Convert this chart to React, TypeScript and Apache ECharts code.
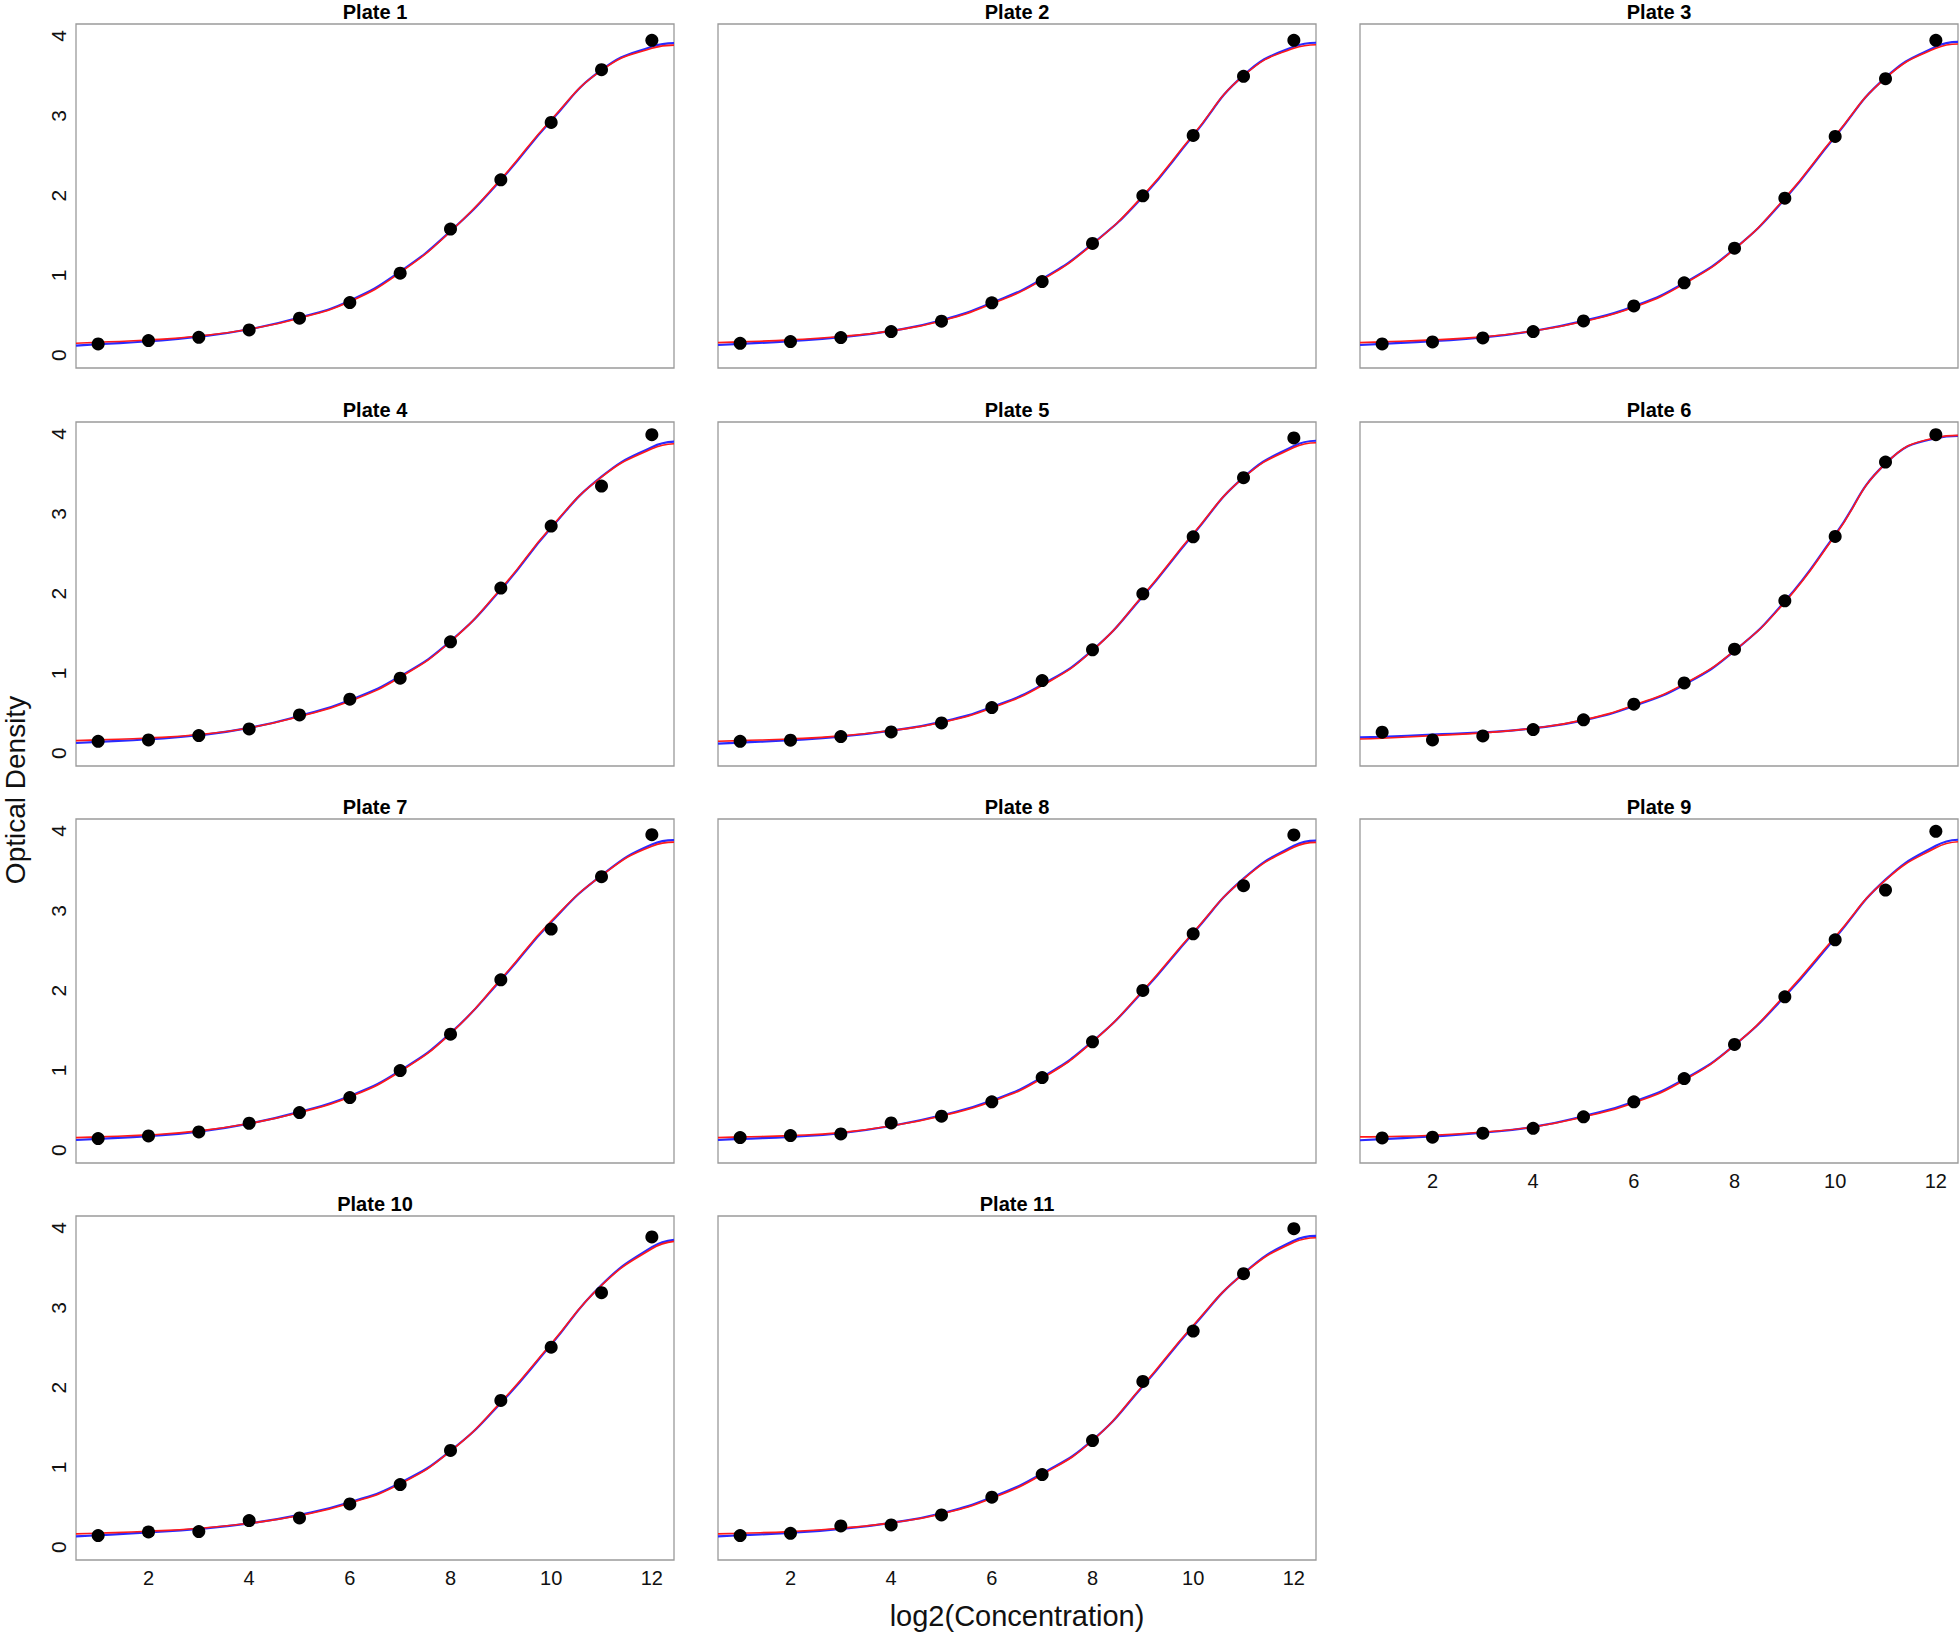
import React, { useEffect, useRef } from "react";
import * as echarts from "echarts";

// ---------- data ----------
const plateNames = [
  "Plate 1", "Plate 2", "Plate 3", "Plate 4", "Plate 5", "Plate 6",
  "Plate 7", "Plate 8", "Plate 9", "Plate 10", "Plate 11",
];
const concX = [1, 2, 3, 4, 5, 6, 7, 8, 9, 10, 11, 12];
const fitX = [0.56, 1, 2, 3, 4, 5, 6, 7, 8, 9, 10, 11, 12, 12.44];
const xTicks = [2, 4, 6, 8, 10, 12];
const yTicks = [0, 1, 2, 3, 4];
const xTitle = "log2(Concentration)";
const yTitle = "Optical Density";

// observed optical densities
const od1 = [0.142, 0.183, 0.225, 0.317, 0.464, 0.66, 1.028, 1.58, 2.198, 2.917, 3.577, 3.945];
const od2 = [0.15, 0.171, 0.221, 0.296, 0.426, 0.656, 0.923, 1.4, 1.997, 2.754, 3.494, 3.945];
const od3 = [0.142, 0.167, 0.217, 0.296, 0.43, 0.618, 0.907, 1.341, 1.968, 2.741, 3.465, 3.945];
const od4 = [0.15, 0.167, 0.221, 0.305, 0.48, 0.677, 0.94, 1.396, 2.069, 2.846, 3.347, 3.991];
const od5 = [0.15, 0.163, 0.209, 0.267, 0.38, 0.572, 0.911, 1.295, 1.997, 2.712, 3.452, 3.95];
const od6 = [0.263, 0.167, 0.217, 0.296, 0.418, 0.614, 0.881, 1.304, 1.91, 2.716, 3.648, 3.991];
const od7 = [0.146, 0.179, 0.229, 0.338, 0.472, 0.66, 0.998, 1.454, 2.135, 2.771, 3.427, 3.954];
const od8 = [0.158, 0.183, 0.204, 0.342, 0.426, 0.606, 0.911, 1.358, 2.002, 2.712, 3.314, 3.95];
const od9 = [0.154, 0.163, 0.213, 0.275, 0.418, 0.606, 0.898, 1.325, 1.922, 2.637, 3.26, 3.995];
const od10 = [0.146, 0.192, 0.196, 0.334, 0.367, 0.543, 0.785, 1.212, 1.839, 2.507, 3.189, 3.887];
const od11 = [0.146, 0.175, 0.267, 0.28, 0.405, 0.627, 0.911, 1.337, 2.077, 2.708, 3.427, 3.991];

// fitted curve (red), sampled at fitX
const red1 = [0.15, 0.163, 0.19, 0.24, 0.326, 0.464, 0.672, 1.036, 1.55, 2.206, 2.95, 3.569, 3.845, 3.885];
const red2 = [0.158, 0.167, 0.192, 0.234, 0.305, 0.43, 0.644, 0.944, 1.39, 1.997, 2.762, 3.502, 3.845, 3.89];
const red3 = [0.158, 0.167, 0.192, 0.23, 0.305, 0.422, 0.6, 0.894, 1.329, 1.968, 2.75, 3.473, 3.845, 3.9];
const red4 = [0.158, 0.167, 0.19, 0.234, 0.317, 0.46, 0.652, 0.952, 1.4, 2.06, 2.834, 3.46, 3.815, 3.878];
const red5 = [0.15, 0.158, 0.179, 0.217, 0.284, 0.384, 0.568, 0.848, 1.287, 1.977, 2.75, 3.452, 3.83, 3.89];
const red6 = [0.179, 0.188, 0.221, 0.255, 0.313, 0.418, 0.602, 0.869, 1.287, 1.893, 2.729, 3.628, 3.954, 3.983];
const red7 = [0.158, 0.167, 0.192, 0.242, 0.334, 0.472, 0.668, 0.986, 1.462, 2.144, 2.87, 3.44, 3.81, 3.86];
const red8 = [0.158, 0.167, 0.183, 0.221, 0.305, 0.43, 0.61, 0.902, 1.358, 1.998, 2.729, 3.398, 3.795, 3.857];
const red9 = [0.167, 0.171, 0.188, 0.229, 0.292, 0.418, 0.593, 0.877, 1.316, 1.943, 2.675, 3.385, 3.79, 3.865];
const red10 = [0.167, 0.175, 0.2, 0.238, 0.3, 0.397, 0.551, 0.794, 1.203, 1.818, 2.55, 3.281, 3.74, 3.832];
const red11 = [0.167, 0.175, 0.196, 0.238, 0.305, 0.417, 0.614, 0.911, 1.337, 2.027, 2.779, 3.427, 3.82, 3.878];

// fitted curve (blue), sampled at fitX
const blue1 = [0.12, 0.138, 0.175, 0.232, 0.326, 0.472, 0.684, 1.048, 1.555, 2.196, 2.94, 3.574, 3.865, 3.91];
const blue2 = [0.128, 0.142, 0.177, 0.226, 0.305, 0.438, 0.656, 0.956, 1.395, 1.987, 2.752, 3.507, 3.865, 3.915];
const blue3 = [0.128, 0.142, 0.177, 0.222, 0.305, 0.43, 0.612, 0.906, 1.334, 1.958, 2.74, 3.478, 3.865, 3.925];
const blue4 = [0.128, 0.142, 0.175, 0.226, 0.317, 0.468, 0.664, 0.964, 1.405, 2.05, 2.824, 3.465, 3.835, 3.903];
const blue5 = [0.12, 0.133, 0.164, 0.209, 0.284, 0.392, 0.58, 0.86, 1.292, 1.967, 2.74, 3.457, 3.85, 3.915];
const blue6 = [0.199, 0.206, 0.233, 0.261, 0.313, 0.412, 0.592, 0.859, 1.282, 1.903, 2.739, 3.628, 3.946, 3.975];
const blue7 = [0.128, 0.142, 0.177, 0.234, 0.334, 0.48, 0.68, 0.998, 1.467, 2.134, 2.86, 3.445, 3.83, 3.885];
const blue8 = [0.128, 0.142, 0.168, 0.213, 0.305, 0.438, 0.622, 0.914, 1.363, 1.988, 2.719, 3.403, 3.815, 3.88];
const blue9 = [0.125, 0.14, 0.172, 0.22, 0.292, 0.428, 0.607, 0.889, 1.318, 1.928, 2.66, 3.39, 3.815, 3.89];
const blue10 = [0.137, 0.15, 0.185, 0.23, 0.3, 0.405, 0.563, 0.806, 1.208, 1.808, 2.54, 3.286, 3.76, 3.852];
const blue11 = [0.137, 0.15, 0.181, 0.23, 0.305, 0.425, 0.626, 0.923, 1.342, 2.017, 2.769, 3.432, 3.84, 3.9];

const odData = [od1, od2, od3, od4, od5, od6, od7, od8, od9, od10, od11];
const redFits = [red1, red2, red3, red4, red5, red6, red7, red8, red9, red10, red11];
const blueFits = [blue1, blue2, blue3, blue4, blue5, blue6, blue7, blue8, blue9, blue10, blue11];

// ---------- layout ----------
const W = 1959;
const H = 1634;
const colLeft = [76, 718, 1360];
const rowTop = [24, 422, 819, 1216];
const panelW = 598;
const panelH = 344;
const FONT = '"Liberation Sans", Arial, Helvetica, sans-serif';

export default function App() {
  const ref = useRef<HTMLDivElement>(null);

  useEffect(() => {
    if (!ref.current) return;
    const chart = echarts.init(ref.current, null, { renderer: "svg" });

    const grids: any[] = [];
    const xAxes: any[] = [];
    const yAxes: any[] = [];
    const series: any[] = [];
    const graphics: any[] = [];

    plateNames.forEach((name, i) => {
      const col = i % 3;
      const row = Math.floor(i / 3);
      const left = colLeft[col];
      const top = rowTop[row];
      const showX = i >= 8;
      const showY = col === 0;

      grids.push({
        left,
        top,
        width: panelW,
        height: panelH,
        show: true,
        borderColor: "#9a9a9a",
        borderWidth: 1.3,
        backgroundColor: "transparent",
      });

      xAxes.push({
        type: "value",
        gridIndex: i,
        min: 0.56,
        max: 12.44,
        axisLine: { show: false },
        axisTick: { show: false },
        splitLine: { show: false },
        axisLabel: {
          show: showX,
          customValues: xTicks,
          fontSize: 20,
          color: "#111",
          fontFamily: FONT,
          margin: 8,
        },
      });

      yAxes.push({
        type: "value",
        gridIndex: i,
        min: -0.16,
        max: 4.15,
        axisLine: { show: false },
        axisTick: { show: false },
        splitLine: { show: false },
        axisLabel: {
          show: showY,
          customValues: yTicks,
          rotate: 90,
          fontSize: 21,
          color: "#111",
          fontFamily: FONT,
          margin: 7,
        },
      });

      series.push({
        type: "line",
        xAxisIndex: i,
        yAxisIndex: i,
        data: fitX.map((x, k) => [x, blueFits[i][k]]),
        smooth: 0.5,
        symbol: "none",
        lineStyle: { color: "#2a2aff", width: 2.2 },
        z: 2,
        silent: true,
      });
      series.push({
        type: "line",
        xAxisIndex: i,
        yAxisIndex: i,
        data: fitX.map((x, k) => [x, redFits[i][k]]),
        smooth: 0.5,
        symbol: "none",
        lineStyle: { color: "#ff1a1a", width: 1.6 },
        z: 3,
        silent: true,
      });
      series.push({
        type: "scatter",
        xAxisIndex: i,
        yAxisIndex: i,
        data: concX.map((x, k) => [x, odData[i][k]]),
        symbol: "circle",
        symbolSize: 13,
        itemStyle: { color: "#000", opacity: 1 },
        z: 4,
        silent: true,
      });

      graphics.push({
        type: "text",
        x: left + panelW / 2,
        y: top - 12,
        style: {
          text: name,
          font: `bold 20px ${FONT}`,
          fill: "#000",
          textAlign: "center",
          textVerticalAlign: "middle",
        },
      });
    });

    graphics.push({
      type: "text",
      x: 1017,
      y: 1616,
      style: {
        text: xTitle,
        font: `29px ${FONT}`,
        fill: "#111",
        textAlign: "center",
        textVerticalAlign: "middle",
      },
    });
    graphics.push({
      type: "text",
      x: 15,
      y: 790,
      rotation: Math.PI / 2,
      style: {
        text: yTitle,
        font: `28px ${FONT}`,
        fill: "#111",
        textAlign: "center",
        textVerticalAlign: "middle",
      },
    });

    chart.setOption({
      animation: false,
      backgroundColor: "#ffffff",
      grid: grids,
      xAxis: xAxes,
      yAxis: yAxes,
      series,
      graphic: graphics,
    });

    return () => {
      chart.dispose();
    };
  }, []);

  return (
    <div
      ref={ref}
      style={{ position: "absolute", left: 0, top: 0, width: W, height: H, background: "#fff" }}
    />
  );
}
